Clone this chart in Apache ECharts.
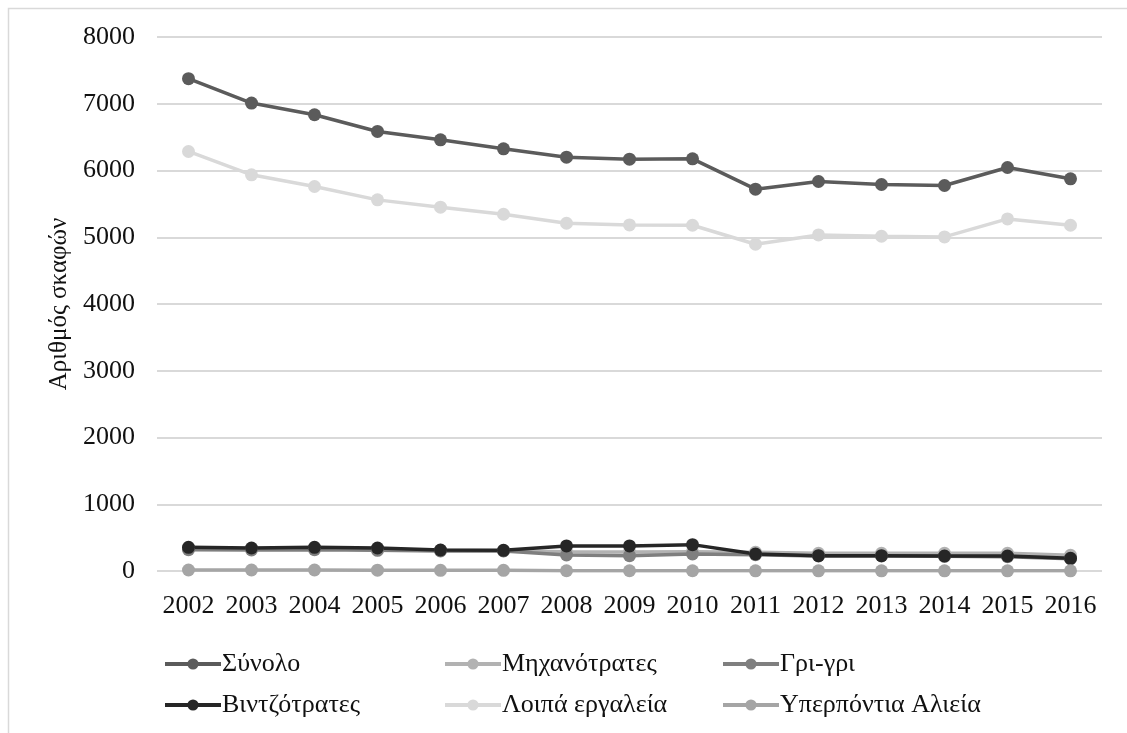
<!DOCTYPE html>
<html>
<head>
<meta charset="utf-8">
<script src="https://cdn.jsdelivr.net/npm/echarts@6/dist/echarts.min.js"></script>
<style>
  html, body { margin: 0; padding: 0; background: #fff; }
  #chart { width: 1127px; height: 733px; }
</style>
</head>
<body>
<div id="chart"></div>
<script>
// Fleet size by gear type, 2002–2016
const years = ['2002','2003','2004','2005','2006','2007','2008','2009','2010','2011','2012','2013','2014','2015','2016'];
const yTicks = { min: 0, max: 8000, step: 1000 };

const total        = [7375, 7010, 6835, 6585, 6460, 6325, 6200, 6170, 6175, 5720, 5835, 5790, 5775, 6045, 5875];
const trawlers     = [335, 330, 335, 320, 310, 305, 290, 285, 290, 280, 265, 265, 265, 265, 235];
const purseSeiners = [320, 315, 320, 310, 300, 300, 240, 230, 255, 245, 225, 225, 220, 215, 185];
const beachSeines  = [355, 345, 355, 345, 315, 310, 375, 375, 395, 255, 230, 230, 225, 225, 190];
const otherGear    = [6285, 5935, 5760, 5560, 5450, 5345, 5210, 5185, 5180, 4895, 5035, 5015, 5005, 5275, 5180];
const overseas     = [15, 15, 15, 12, 10, 10, 4, 4, 4, 3, 3, 3, 3, 3, 3];

const seriesDefs = [
  { name: 'Σύνολο',            data: total,        color: '#5b5b5b' },
  { name: 'Μηχανότρατες',      data: trawlers,     color: '#b2b2b2' },
  { name: 'Γρι-γρι',           data: purseSeiners, color: '#7f7f7f' },
  { name: 'Βιντζότρατες',      data: beachSeines,  color: '#262626' },
  { name: 'Λοιπά εργαλεία',    data: otherGear,    color: '#d9d9d9' },
  { name: 'Υπερπόντια Αλιεία', data: overseas,     color: '#a5a5a5' }
];

const FONT = '"Liberation Serif", "Times New Roman", serif';
const TEXT = '#111';

// legend laid out as a 3 x 2 table
const legendCols = [158, 438, 716];
const legendRows = [646, 687];
const legends = seriesDefs.map((s, i) => ({
  data: [s.name],
  left: legendCols[i % 3],
  top: legendRows[Math.floor(i / 3)],
  itemWidth: 56,
  itemHeight: 14,
  itemGap: 2,
  lineStyle: { width: 4 },
  textStyle: { fontFamily: FONT, fontSize: 26, color: TEXT, padding: [0, 0, 0, -4] },
  selectedMode: false
}));

const chart = echarts.init(document.getElementById('chart'), null, { renderer: 'canvas' });
chart.setOption({
  animation: false,
  backgroundColor: '#fff',
  graphic: [{
    type: 'rect',
    shape: { x: 8.5, y: 8.5, width: 1140, height: 760 },
    style: { fill: 'none', stroke: '#d9d9d9', lineWidth: 1.5 },
    silent: true,
    z: -10
  }],
  grid: { left: 157, right: 25, top: 37, bottom: 162 },
  legend: legends,
  xAxis: {
    type: 'category',
    data: years,
    boundaryGap: true,
    axisLine: { show: false },
    axisTick: { show: false },
    axisLabel: { interval: 0, fontFamily: FONT, fontSize: 26, color: TEXT, margin: 22 }
  },
  yAxis: {
    type: 'value',
    min: yTicks.min,
    max: yTicks.max,
    interval: yTicks.step,
    name: 'Αριθμός σκαφών',
    nameLocation: 'middle',
    nameRotate: 90,
    nameGap: 80,
    nameTextStyle: { fontFamily: FONT, fontSize: 25, color: TEXT },
    axisLine: { show: false },
    axisTick: { show: false },
    axisLabel: { fontFamily: FONT, fontSize: 26, color: TEXT, margin: 22, formatter: v => String(v) },
    splitLine: { lineStyle: { color: '#d9d9d9', width: 2 } }
  },
  series: seriesDefs.map(s => ({
    name: s.name,
    type: 'line',
    data: s.data,
    symbol: 'circle',
    symbolSize: 13,
    showSymbol: true,
    color: s.color,
    lineStyle: { width: 3.5, color: s.color },
    itemStyle: { color: s.color },
    emphasis: { disabled: true }
  }))
});
</script>
</body>
</html>
